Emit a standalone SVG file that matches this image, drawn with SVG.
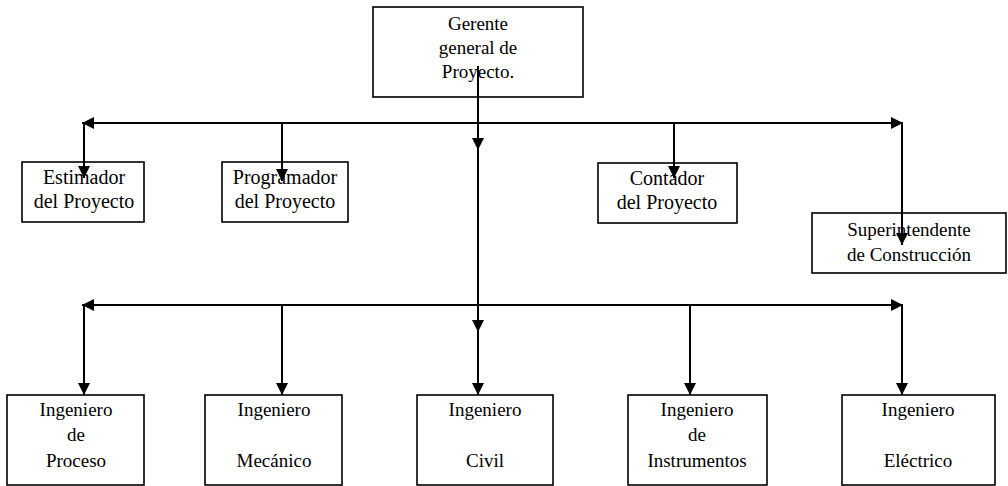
<svg xmlns="http://www.w3.org/2000/svg" width="1008" height="486" viewBox="0 0 1008 486">
<style>
.box{fill:#fff;stroke:#000;stroke-width:1.6}
.t{font-family:"Liberation Serif","Times New Roman",serif;font-size:19px;fill:#000;text-anchor:middle}
.m{font-size:20px}
.c{stroke:#000;stroke-width:2;fill:none}
.ah{fill:#000}
</style>
<defs>
<marker id="arr" viewBox="0 0 10 10" refX="10" refY="5" markerWidth="12" markerHeight="12" markerUnits="userSpaceOnUse" orient="auto"><path d="M0,0 L10,5 L0,10 Z" class="ah"/></marker>
</defs>
<g id="n-gerente"><rect class="box" x="373" y="7" width="210" height="90"/>
<text class="t" x="478" y="30">Gerente</text><text class="t" x="478" y="54">general de</text><text class="t" x="478" y="78">Proyecto.</text></g>
<g id="n-estimador"><rect class="box" x="22" y="162" width="122" height="60"/>
<text class="t m" x="84" y="184">Estimador</text><text class="t m" x="84" y="208">del Proyecto</text></g>
<g id="n-programador"><rect class="box" x="222" y="162" width="126" height="60"/>
<text class="t m" x="285" y="184">Programador</text><text class="t m" x="285" y="208">del Proyecto</text></g>
<g id="n-contador"><rect class="box" x="598" y="163" width="139" height="60"/>
<text class="t m" x="667" y="185">Contador</text><text class="t m" x="667" y="209">del Proyecto</text></g>
<g id="n-super"><rect class="box" x="812" y="213" width="194" height="60"/>
<text class="t" x="909" y="236">Superintendente</text><text class="t" x="909" y="261">de Construcción</text></g>
<g id="n-proceso"><rect class="box" x="7" y="395" width="137" height="90"/>
<text class="t" x="76" y="416">Ingeniero</text><text class="t" x="76" y="441">de</text><text class="t" x="76" y="467">Proceso</text></g>
<g id="n-mecanico"><rect class="box" x="205" y="395" width="137" height="90"/>
<text class="t" x="274" y="416">Ingeniero</text><text class="t" x="274" y="467">Mecánico</text></g>
<g id="n-civil"><rect class="box" x="417" y="395" width="136" height="90"/>
<text class="t" x="485" y="416">Ingeniero</text><text class="t" x="485" y="467">Civil</text></g>
<g id="n-instrumentos"><rect class="box" x="628" y="395" width="139" height="90"/>
<text class="t" x="697" y="416">Ingeniero</text><text class="t" x="697" y="441">de</text><text class="t" x="697" y="467">Instrumentos</text></g>
<g id="n-electrico"><rect class="box" x="842" y="395" width="153" height="90"/>
<text class="t" x="918" y="416">Ingeniero</text><text class="t" x="918" y="467">Eléctrico</text></g>
<g id="connectors">
<line class="c" x1="478" y1="66" x2="478" y2="150" marker-end="url(#arr)"/>
<line class="c" x1="478" y1="150" x2="478" y2="332" marker-end="url(#arr)"/>
<line class="c" x1="478" y1="332" x2="478" y2="395" marker-end="url(#arr)"/>
<line class="c" x1="478" y1="123" x2="82" y2="123" marker-end="url(#arr)"/>
<line class="c" x1="478" y1="123" x2="903" y2="123" marker-end="url(#arr)"/>
<line class="c" x1="84" y1="123" x2="84" y2="178" marker-end="url(#arr)"/>
<line class="c" x1="282" y1="123" x2="282" y2="181" marker-end="url(#arr)"/>
<line class="c" x1="674" y1="123" x2="674" y2="178" marker-end="url(#arr)"/>
<line class="c" x1="902" y1="123" x2="902" y2="245" marker-end="url(#arr)"/>
<line class="c" x1="478" y1="305" x2="82" y2="305" marker-end="url(#arr)"/>
<line class="c" x1="478" y1="305" x2="903" y2="305" marker-end="url(#arr)"/>
<line class="c" x1="84" y1="305" x2="84" y2="395" marker-end="url(#arr)"/>
<line class="c" x1="282" y1="305" x2="282" y2="395" marker-end="url(#arr)"/>
<line class="c" x1="690" y1="305" x2="690" y2="395" marker-end="url(#arr)"/>
<line class="c" x1="902" y1="305" x2="902" y2="395" marker-end="url(#arr)"/>
</g>
</svg>
